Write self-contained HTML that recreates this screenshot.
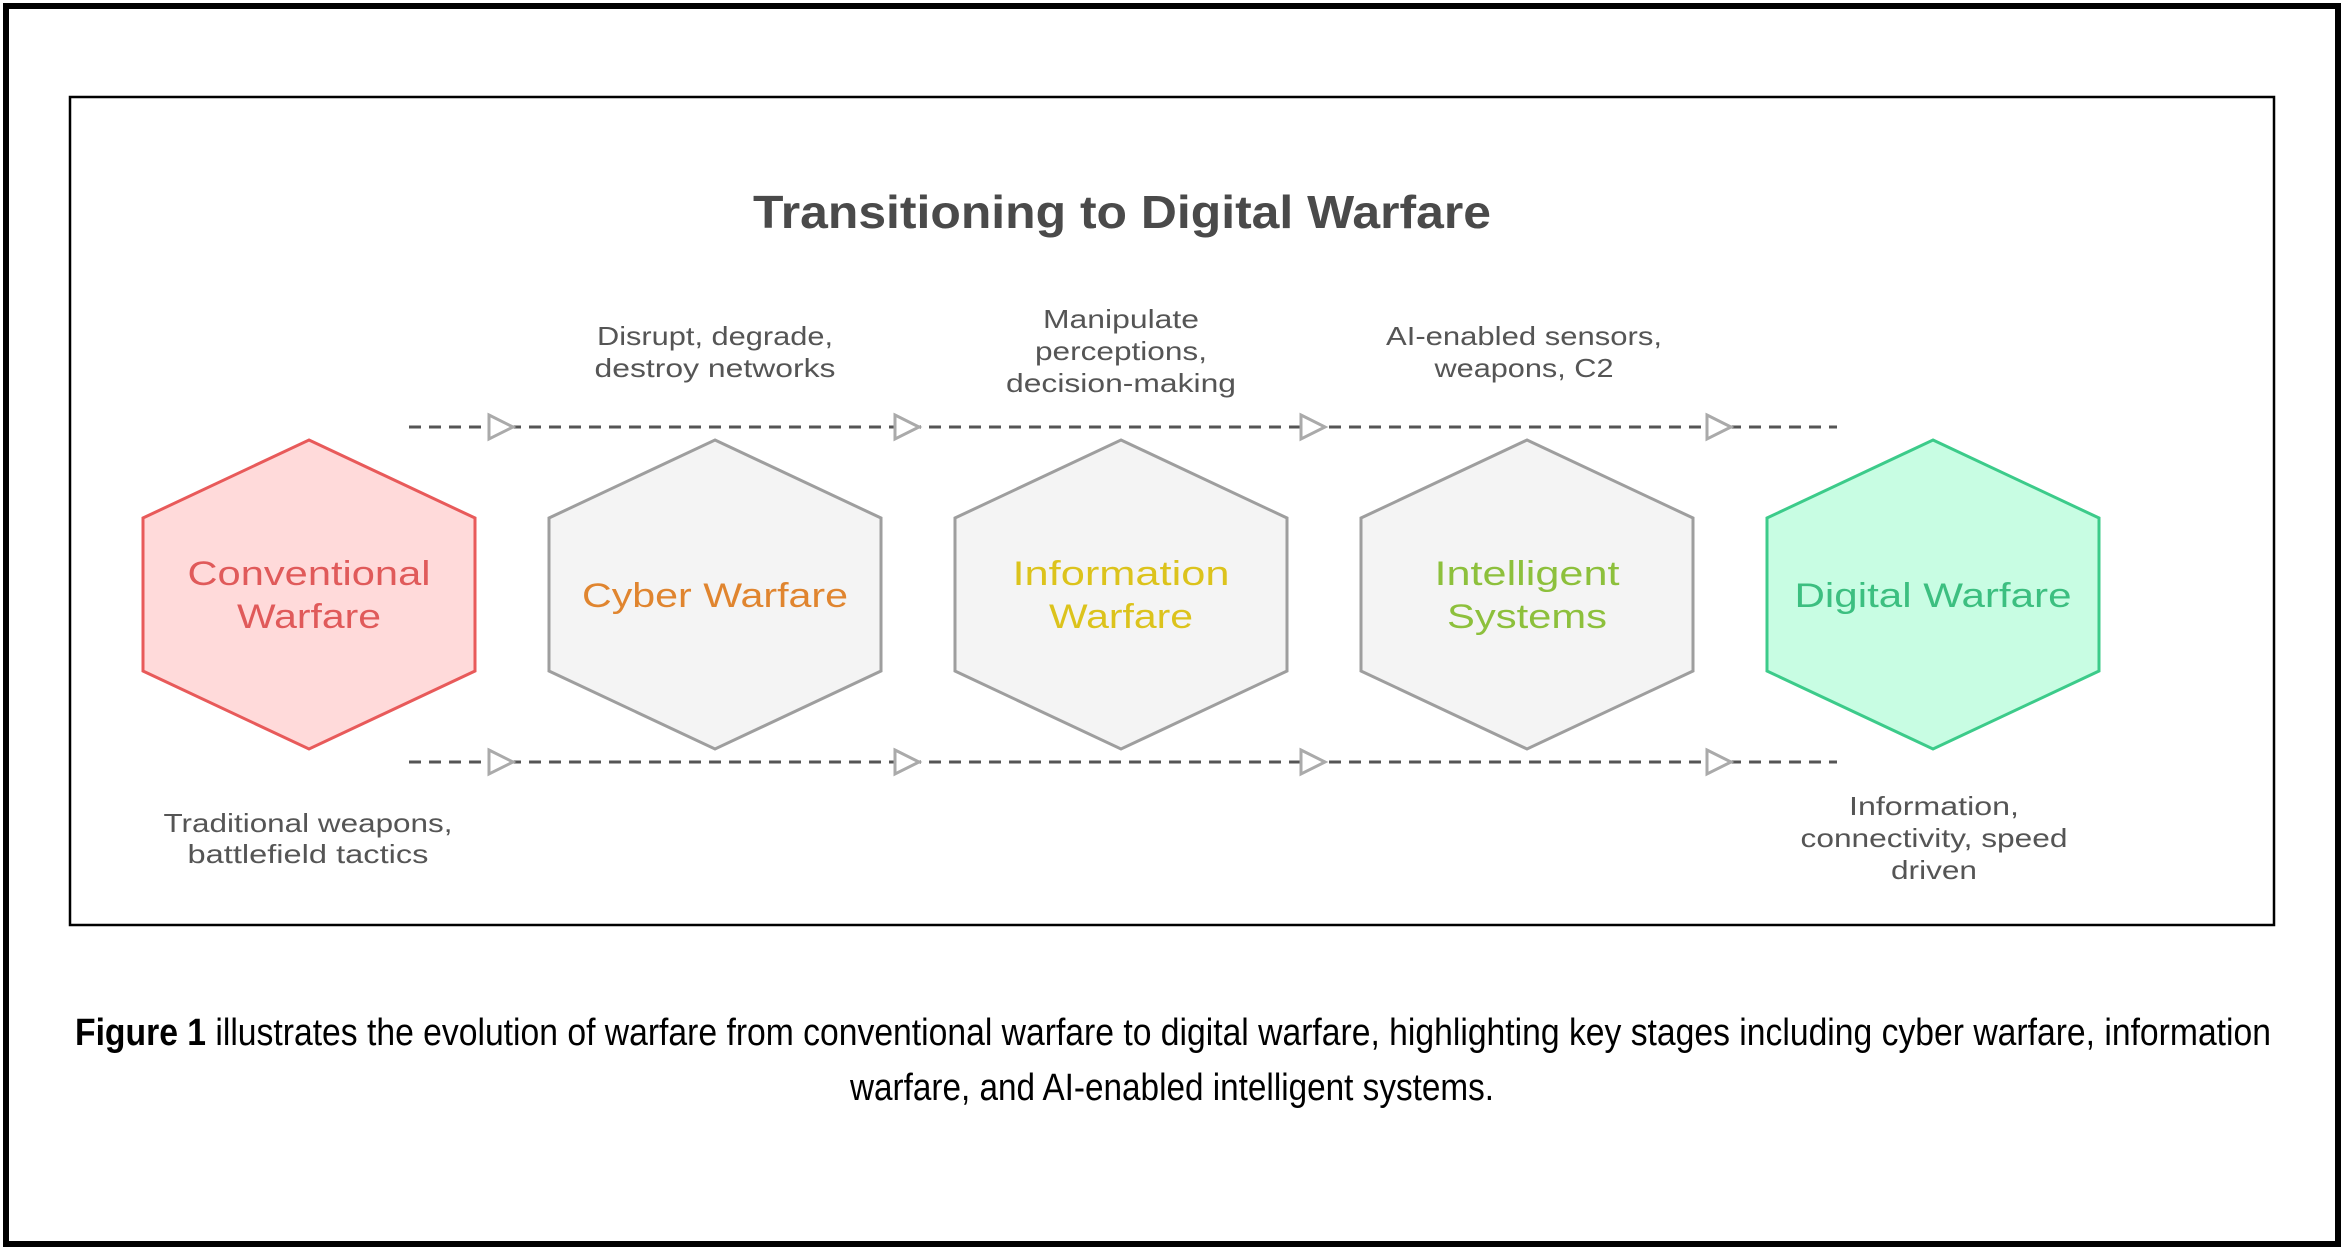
<!DOCTYPE html>
<html><head><meta charset="utf-8"><style>html,body{margin:0;padding:0;background:#fff}svg{display:block}</style></head>
<body>
<svg width="2346" height="1255" viewBox="0 0 2346 1255" xmlns="http://www.w3.org/2000/svg">
<rect x="6" y="6" width="2332" height="1238" fill="#fff" stroke="#000" stroke-width="6"/>
<rect x="70" y="97" width="2204" height="828" fill="#fff" stroke="#000" stroke-width="2.5"/>

<text x="1122" y="228" text-anchor="middle" font-family="Liberation Sans, sans-serif" font-weight="bold" font-size="46" fill="#4a4a4a" textLength="738" lengthAdjust="spacingAndGlyphs">Transitioning to Digital Warfare</text>

<g stroke="#555" stroke-width="3" stroke-dasharray="12,8" fill="none">
<line x1="409" y1="427" x2="1837" y2="427"/>
<line x1="409" y1="762" x2="1837" y2="762"/>
</g>
<g fill="#fff" stroke="#aaa" stroke-width="3" stroke-linejoin="miter">
<polygon points="489,415 513,427 489,439"/><polygon points="895,415 919,427 895,439"/><polygon points="1301,415 1325,427 1301,439"/><polygon points="1707,415 1731,427 1707,439"/>
<polygon points="489,750 513,762 489,774"/><polygon points="895,750 919,762 895,774"/><polygon points="1301,750 1325,762 1301,774"/><polygon points="1707,750 1731,762 1707,774"/>
</g>

<g stroke-width="3">
<polygon points="309,440 475,518 475,671 309,749 143,671 143,518" fill="#ffdada" stroke="#e85a5a"/>
<polygon points="715,440 881,518 881,671 715,749 549,671 549,518" fill="#f4f4f4" stroke="#9e9e9e"/>
<polygon points="1121,440 1287,518 1287,671 1121,749 955,671 955,518" fill="#f4f4f4" stroke="#9e9e9e"/>
<polygon points="1527,440 1693,518 1693,671 1527,749 1361,671 1361,518" fill="#f4f4f4" stroke="#9e9e9e"/>
<polygon points="1933,440 2099,518 2099,671 1933,749 1767,671 1767,518" fill="#c8fde3" stroke="#3ccb8a"/>
</g>

<g font-family="Liberation Sans, sans-serif" font-size="34" text-anchor="middle">
<text x="309" y="585" fill="#e05a5a" textLength="243" lengthAdjust="spacingAndGlyphs">Conventional</text>
<text x="309" y="628" fill="#e05a5a" textLength="144" lengthAdjust="spacingAndGlyphs">Warfare</text>
<text x="715" y="607" fill="#e0852f" textLength="266" lengthAdjust="spacingAndGlyphs">Cyber Warfare</text>
<text x="1121" y="585" fill="#dcc31c" textLength="217" lengthAdjust="spacingAndGlyphs">Information</text>
<text x="1121" y="628" fill="#dcc31c" textLength="144" lengthAdjust="spacingAndGlyphs">Warfare</text>
<text x="1527" y="585" fill="#8dc03c" textLength="185" lengthAdjust="spacingAndGlyphs">Intelligent</text>
<text x="1527" y="628" fill="#8dc03c" textLength="160" lengthAdjust="spacingAndGlyphs">Systems</text>
<text x="1933" y="607" fill="#3cbf80" textLength="277" lengthAdjust="spacingAndGlyphs">Digital Warfare</text>
</g>

<g font-family="Liberation Sans, sans-serif" font-size="26" fill="#555" text-anchor="middle">
<text x="715" y="345" textLength="236" lengthAdjust="spacingAndGlyphs">Disrupt, degrade,</text>
<text x="715" y="377" textLength="241" lengthAdjust="spacingAndGlyphs">destroy networks</text>
<text x="1121" y="328" textLength="156" lengthAdjust="spacingAndGlyphs">Manipulate</text>
<text x="1121" y="360" textLength="172" lengthAdjust="spacingAndGlyphs">perceptions,</text>
<text x="1121" y="392" textLength="230" lengthAdjust="spacingAndGlyphs">decision-making</text>
<text x="1524" y="345" textLength="276" lengthAdjust="spacingAndGlyphs">AI-enabled sensors,</text>
<text x="1524" y="377" textLength="179" lengthAdjust="spacingAndGlyphs">weapons, C2</text>
<text x="308" y="832" textLength="289" lengthAdjust="spacingAndGlyphs">Traditional weapons,</text>
<text x="308" y="863" textLength="241" lengthAdjust="spacingAndGlyphs">battlefield tactics</text>
<text x="1934" y="815" textLength="170" lengthAdjust="spacingAndGlyphs">Information,</text>
<text x="1934" y="847" textLength="267" lengthAdjust="spacingAndGlyphs">connectivity, speed</text>
<text x="1934" y="879" textLength="86" lengthAdjust="spacingAndGlyphs">driven</text>
</g>

<g font-family="Liberation Sans, sans-serif" font-size="38" fill="#000">
<text x="75" y="1045" textLength="2196" lengthAdjust="spacingAndGlyphs"><tspan font-weight="bold">Figure 1</tspan> illustrates the evolution of warfare from conventional warfare to digital warfare, highlighting key stages including cyber warfare, information</text>
<text x="850" y="1100" textLength="644" lengthAdjust="spacingAndGlyphs">warfare, and AI-enabled intelligent systems.</text>
</g>
</svg>
</body></html>
